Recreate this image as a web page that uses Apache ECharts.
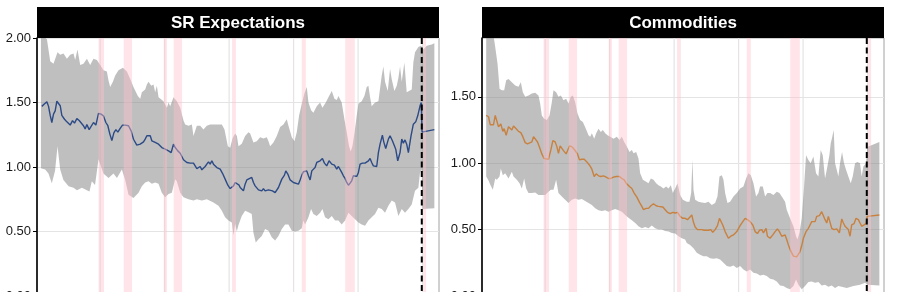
<!DOCTYPE html>
<html><head><meta charset="utf-8">
<script src="https://cdn.jsdelivr.net/npm/echarts@6/dist/echarts.min.js"></script>
<style>html,body{margin:0;padding:0;background:#fff}#c{width:897px;height:292px}</style>
</head><body><div id="c"></div>
<script>
const panelTitles = ['SR Expectations', 'Commodities'];
const decadeLines = [1970, 1980, 1990, 2000, 2010, 2020];
const forecastStart = 2019.88;
const recessions = [[1969.75,1970.6],[1973.65,1974.95],[1979.85,1980.35],[1981.4,1982.7],[1990.45,1991.05],[2001.27,2001.9],[2008.0,2009.5],[2020.1,2020.55]];

const srMean = [[1960.95,1.47],[1961.37,1.49],[1961.73,1.505],[1961.99,1.47],[1962.25,1.40],[1962.5,1.345],[1962.76,1.41],[1963.02,1.435],[1963.28,1.51],[1963.54,1.525],[1963.8,1.475],[1964.05,1.40],[1964.47,1.37],[1964.83,1.35],[1965.35,1.325],[1965.71,1.36],[1966.02,1.34],[1966.38,1.375],[1966.74,1.36],[1967.05,1.37],[1967.41,1.32],[1967.67,1.295],[1967.93,1.33],[1968.29,1.29],[1968.6,1.305],[1968.96,1.345],[1969.33,1.325],[1969.74,1.415],[1970.15,1.41],[1970.51,1.395],[1970.88,1.345],[1971.19,1.32],[1971.5,1.255],[1971.81,1.205],[1972.12,1.265],[1972.43,1.29],[1972.74,1.27],[1973.1,1.30],[1973.46,1.325],[1973.87,1.325],[1974.39,1.32],[1974.8,1.28],[1975.17,1.215],[1975.68,1.17],[1976.21,1.177],[1976.46,1.164],[1976.72,1.195],[1976.98,1.216],[1977.24,1.242],[1977.5,1.255],[1977.76,1.242],[1978.01,1.203],[1978.27,1.216],[1978.53,1.19],[1978.79,1.203],[1979.05,1.177],[1979.31,1.164],[1979.56,1.151],[1980.08,1.138],[1980.6,1.125],[1981.01,1.112],[1981.37,1.177],[1981.63,1.151],[1982.04,1.125],[1982.41,1.107],[1982.92,1.056],[1983.44,1.035],[1983.96,1.03],[1984.47,1.03],[1984.73,1.04],[1984.99,0.988],[1985.25,0.996],[1985.51,1.004],[1985.77,0.978],[1986.02,0.963],[1986.28,1.004],[1986.54,1.022],[1986.8,1.04],[1987.06,1.022],[1987.32,1.048],[1987.57,1.022],[1987.83,1.022],[1988.09,0.996],[1988.61,0.983],[1988.97,0.951],[1989.38,0.906],[1989.8,0.859],[1990.16,0.833],[1990.68,0.854],[1990.93,0.88],[1991.19,0.886],[1991.55,0.859],[1991.71,0.841],[1991.96,0.854],[1992.22,0.815],[1992.48,0.867],[1992.74,0.9],[1993.0,0.91],[1993.51,0.919],[1993.77,0.88],[1994.03,0.854],[1994.29,0.841],[1994.55,0.823],[1994.81,0.828],[1995.06,0.815],[1995.32,0.833],[1995.58,0.815],[1995.84,0.828],[1996.1,0.823],[1996.36,0.828],[1996.72,0.815],[1997.13,0.802],[1997.39,0.807],[1997.65,0.841],[1998.17,0.906],[1998.58,0.937],[1998.79,0.97],[1999.1,0.945],[1999.46,0.9],[1999.72,0.906],[1999.97,0.88],[2000.23,0.886],[2000.75,0.867],[2001.01,0.9],[2001.27,0.937],[2001.52,0.963],[2001.78,0.958],[2002.04,0.97],[2002.3,0.932],[2002.56,0.9],[2002.82,0.97],[2003.07,0.97],[2003.33,0.996],[2003.59,1.035],[2004.11,1.048],[2004.47,1.066],[2004.78,1.03],[2005.14,1.009],[2005.5,1.048],[2005.92,1.022],[2006.33,1.014],[2006.69,0.983],[2006.95,1.004],[2007.21,0.996],[2007.46,0.958],[2007.72,0.932],[2007.98,0.911],[2008.24,0.88],[2008.5,0.859],[2008.76,0.875],[2009.01,0.893],[2009.27,0.932],[2009.53,0.937],[2009.79,0.927],[2010.05,0.958],[2010.31,1.022],[2010.67,1.03],[2011.08,1.03],[2011.34,1.04],[2011.6,1.048],[2011.86,1.066],[2012.11,1.035],[2012.37,1.009],[2012.89,1.004],[2013.15,1.112],[2013.41,1.177],[2013.77,1.247],[2013.98,1.195],[2014.29,1.143],[2014.7,1.216],[2014.96,1.242],[2015.32,1.203],[2015.63,1.164],[2015.84,1.138],[2016.15,1.048],[2016.51,1.112],[2016.77,1.216],[2017.02,1.185],[2017.28,1.21],[2017.54,1.177],[2017.8,1.112],[2018.21,1.242],[2018.57,1.332],[2018.94,1.35],[2019.25,1.397],[2019.61,1.474],[2019.8,1.5],[2019.92,1.27],[2021.83,1.29]];

const srUpper = [[1960.81,2.03],[1961.74,1.99],[1962.25,1.82],[1962.76,1.80],[1963.38,1.89],[1963.8,1.87],[1964.31,1.88],[1964.84,1.84],[1965.35,1.87],[1965.86,1.88],[1966.12,1.83],[1966.48,1.91],[1966.9,1.79],[1967.41,1.80],[1967.94,1.84],[1968.45,1.79],[1968.96,1.84],[1969.49,1.83],[1970.0,1.79],[1970.51,1.75],[1971.04,1.74],[1971.29,1.67],[1971.55,1.62],[1971.97,1.66],[1972.33,1.71],[1972.84,1.75],[1973.52,1.77],[1974.14,1.74],[1974.76,1.67],[1975.16,1.62],[1975.84,1.55],[1976.21,1.53],[1976.46,1.58],[1976.98,1.60],[1977.24,1.64],[1977.5,1.66],[1977.91,1.63],[1978.27,1.64],[1978.53,1.58],[1978.79,1.63],[1979.05,1.54],[1979.82,1.51],[1980.34,1.46],[1980.6,1.50],[1980.86,1.47],[1981.37,1.54],[1981.89,1.51],[1982.41,1.46],[1982.92,1.36],[1983.18,1.33],[1983.7,1.32],[1984.22,1.33],[1984.47,1.24],[1984.99,1.32],[1985.51,1.32],[1986.02,1.29],[1986.54,1.32],[1987.06,1.33],[1988.09,1.33],[1988.87,1.33],[1989.28,1.29],[1989.8,1.16],[1990.16,1.15],[1990.52,1.22],[1990.93,1.26],[1991.2,1.24],[1991.45,1.16],[1991.96,1.18],[1992.48,1.24],[1993.0,1.27],[1993.26,1.26],[1993.77,1.19],[1994.29,1.20],[1994.81,1.23],[1995.32,1.22],[1995.84,1.23],[1996.1,1.20],[1996.36,1.16],[1996.87,1.19],[1997.39,1.24],[1997.91,1.31],[1998.42,1.33],[1998.94,1.37],[1999.2,1.32],[1999.72,1.23],[2000.13,1.20],[2000.49,1.27],[2000.85,1.40],[2001.27,1.49],[2001.68,1.57],[2002.04,1.62],[2002.3,1.50],[2002.71,1.44],[2003.07,1.42],[2003.59,1.47],[2004.11,1.50],[2004.47,1.46],[2004.99,1.50],[2005.4,1.54],[2005.92,1.59],[2006.33,1.53],[2006.7,1.52],[2006.95,1.55],[2007.46,1.50],[2007.88,1.37],[2008.24,1.27],[2008.6,1.16],[2008.86,1.12],[2009.12,1.16],[2009.43,1.26],[2009.79,1.40],[2010.05,1.49],[2010.56,1.51],[2010.98,1.55],[2011.34,1.62],[2011.6,1.63],[2011.86,1.54],[2012.11,1.47],[2012.63,1.50],[2013.15,1.51],[2013.67,1.71],[2013.92,1.78],[2014.18,1.66],[2014.6,1.59],[2014.96,1.76],[2015.22,1.68],[2015.63,1.59],[2016.0,1.63],[2016.25,1.69],[2016.51,1.78],[2016.77,1.66],[2017.18,1.81],[2017.54,1.58],[2017.9,1.59],[2018.32,1.60],[2018.57,1.81],[2018.83,1.89],[2019.35,1.93],[2019.76,1.94],[2020.13,1.91],[2020.65,1.94],[2021.42,1.95],[2021.83,1.96]];

const srLower = [[1960.81,0.99],[1961.47,0.98],[1961.98,0.95],[1962.5,0.875],[1963.0,0.97],[1963.38,1.16],[1963.8,0.98],[1964.3,0.90],[1965.1,0.85],[1965.86,0.84],[1966.4,0.82],[1967.16,0.84],[1967.94,0.82],[1968.34,0.81],[1968.7,0.89],[1969.2,0.86],[1969.74,1.06],[1970.5,0.95],[1971.3,0.915],[1972.06,0.95],[1972.6,0.915],[1973.36,0.98],[1973.88,0.90],[1974.4,0.785],[1975.16,0.76],[1975.95,0.80],[1976.46,0.85],[1976.98,0.88],[1977.5,0.89],[1978.01,0.87],[1978.53,0.88],[1979.05,0.87],[1979.56,0.80],[1980.08,0.765],[1980.6,0.79],[1981.11,0.80],[1981.63,0.905],[1981.89,0.89],[1982.41,0.80],[1982.92,0.765],[1983.7,0.75],[1984.47,0.74],[1984.99,0.75],[1985.77,0.74],[1986.54,0.75],[1987.57,0.725],[1988.35,0.70],[1988.87,0.66],[1989.38,0.61],[1989.9,0.585],[1990.42,0.57],[1990.68,0.47],[1990.93,0.56],[1991.19,0.50],[1991.45,0.55],[1991.96,0.62],[1992.48,0.66],[1993.0,0.65],[1993.51,0.635],[1993.77,0.49],[1994.13,0.415],[1994.55,0.44],[1995.06,0.465],[1995.58,0.52],[1996.1,0.505],[1996.61,0.455],[1997.13,0.43],[1997.65,0.465],[1998.17,0.52],[1998.68,0.555],[1999.2,0.555],[1999.72,0.505],[2000.23,0.50],[2000.75,0.505],[2001.27,0.525],[2001.52,0.585],[2001.78,0.555],[2002.3,0.61],[2002.71,0.675],[2003.07,0.635],[2003.59,0.62],[2004.11,0.645],[2004.47,0.675],[2004.88,0.61],[2005.4,0.595],[2005.92,0.62],[2006.43,0.585],[2006.95,0.585],[2007.46,0.555],[2007.98,0.585],[2008.5,0.645],[2009.01,0.62],[2009.53,0.595],[2010.05,0.57],[2010.56,0.555],[2011.08,0.545],[2011.6,0.585],[2012.11,0.61],[2012.63,0.635],[2013.15,0.685],[2013.67,0.675],[2014.18,0.645],[2014.7,0.70],[2015.22,0.74],[2015.73,0.725],[2016.25,0.62],[2016.77,0.675],[2017.28,0.645],[2017.8,0.675],[2018.32,0.71],[2018.83,0.815],[2019.35,0.84],[2019.61,0.96],[2019.85,0.98],[2020.0,0.675],[2021.83,0.68]];

const comMean = [[1960.85,1.36],[1961.21,1.35],[1961.47,1.29],[1961.73,1.30],[1961.99,1.29],[1962.25,1.36],[1962.5,1.35],[1962.76,1.275],[1963.12,1.295],[1963.43,1.24],[1963.64,1.26],[1963.95,1.21],[1964.31,1.275],[1964.57,1.29],[1964.83,1.25],[1965.09,1.28],[1965.5,1.26],[1965.86,1.24],[1966.22,1.23],[1966.53,1.20],[1966.9,1.155],[1967.26,1.145],[1967.57,1.135],[1967.93,1.16],[1968.19,1.20],[1968.45,1.195],[1968.81,1.16],[1969.12,1.12],[1969.48,1.07],[1969.84,1.035],[1970.15,1.025],[1970.51,1.03],[1970.88,1.10],[1971.19,1.17],[1971.55,1.16],[1971.81,1.125],[1972.06,1.075],[1972.32,1.13],[1972.58,1.125],[1972.84,1.095],[1973.25,1.07],[1973.46,1.075],[1973.77,1.13],[1974.13,1.125],[1974.49,1.105],[1974.8,1.10],[1975.01,1.07],[1975.32,1.025],[1975.68,1.03],[1976.05,1.03],[1976.46,1.01],[1976.88,0.985],[1977.24,0.955],[1977.6,0.90],[1977.91,0.92],[1978.27,0.905],[1978.63,0.90],[1979.05,0.905],[1979.46,0.895],[1979.82,0.885],[1980.18,0.885],[1980.6,0.895],[1981.01,0.90],[1981.22,0.885],[1981.53,0.90],[1981.89,0.885],[1982.25,0.875],[1982.56,0.85],[1983.08,0.825],[1983.44,0.81],[1983.8,0.775],[1984.22,0.745],[1984.63,0.705],[1984.99,0.675],[1985.25,0.65],[1985.66,0.66],[1986.02,0.66],[1986.39,0.68],[1986.8,0.695],[1987.21,0.68],[1987.57,0.675],[1987.83,0.66],[1988.25,0.67],[1988.61,0.65],[1988.97,0.63],[1989.38,0.62],[1989.8,0.63],[1990.16,0.625],[1990.52,0.63],[1990.93,0.60],[1991.35,0.585],[1991.71,0.585],[1992.07,0.575],[1992.38,0.585],[1992.74,0.61],[1993.0,0.555],[1993.26,0.52],[1993.62,0.50],[1993.93,0.485],[1994.29,0.50],[1994.65,0.495],[1994.96,0.505],[1995.32,0.495],[1995.68,0.50],[1995.99,0.48],[1996.36,0.50],[1996.72,0.53],[1997.03,0.585],[1997.23,0.60],[1997.54,0.535],[1997.91,0.485],[1998.42,0.435],[1998.79,0.45],[1999.2,0.46],[1999.72,0.485],[2000.23,0.53],[2000.65,0.56],[2001.01,0.585],[2001.37,0.575],[2001.78,0.56],[2002.2,0.535],[2002.56,0.485],[2002.92,0.47],[2003.23,0.495],[2003.59,0.50],[2003.85,0.475],[2004.26,0.51],[2004.47,0.45],[2004.88,0.435],[2005.3,0.46],[2005.66,0.485],[2006.02,0.505],[2006.33,0.485],[2006.69,0.45],[2006.95,0.435],[2007.21,0.46],[2007.46,0.425],[2007.72,0.385],[2007.98,0.35],[2008.24,0.325],[2008.5,0.30],[2008.76,0.305],[2009.01,0.295],[2009.27,0.31],[2009.53,0.335],[2009.79,0.38],[2010.05,0.435],[2010.46,0.485],[2010.82,0.51],[2011.08,0.535],[2011.34,0.56],[2011.6,0.575],[2011.86,0.56],[2012.11,0.60],[2012.53,0.605],[2012.89,0.635],[2013.15,0.625],[2013.41,0.575],[2013.67,0.55],[2013.92,0.60],[2014.18,0.585],[2014.44,0.51],[2014.8,0.50],[2015.22,0.505],[2015.63,0.475],[2016.0,0.58],[2016.25,0.55],[2016.51,0.525],[2016.77,0.51],[2017.02,0.50],[2017.28,0.45],[2017.54,0.535],[2017.9,0.545],[2018.21,0.585],[2018.57,0.575],[2018.83,0.57],[2019.09,0.525],[2019.35,0.535],[2019.76,0.545],[2019.95,0.60],[2021.83,0.61]];

const comUpper = [[1960.85,2.0],[1961.99,1.96],[1962.25,1.875],[1962.61,1.75],[1962.92,1.56],[1963.28,1.55],[1963.64,1.55],[1963.95,1.625],[1964.31,1.635],[1964.83,1.61],[1965.35,1.585],[1965.86,1.575],[1966.22,1.61],[1966.53,1.535],[1966.9,1.50],[1967.41,1.51],[1967.93,1.525],[1968.45,1.53],[1968.96,1.51],[1969.22,1.45],[1969.48,1.36],[1969.84,1.335],[1970.26,1.325],[1970.67,1.36],[1971.03,1.46],[1971.29,1.55],[1971.7,1.535],[1972.06,1.50],[1972.43,1.51],[1972.84,1.475],[1973.25,1.485],[1973.62,1.45],[1973.98,1.50],[1974.29,1.51],[1974.65,1.46],[1975.01,1.375],[1975.42,1.325],[1975.84,1.31],[1976.21,1.27],[1976.72,1.21],[1976.98,1.20],[1977.24,1.225],[1977.6,1.185],[1977.91,1.225],[1978.27,1.26],[1978.63,1.235],[1978.94,1.25],[1979.31,1.225],[1979.67,1.21],[1980.08,1.20],[1980.6,1.185],[1981.11,1.20],[1981.53,1.175],[1981.89,1.20],[1982.25,1.16],[1982.66,1.125],[1983.08,1.085],[1983.44,1.10],[1983.7,1.075],[1984.11,1.085],[1984.47,1.035],[1984.73,0.925],[1985.15,0.875],[1985.66,0.86],[1986.02,0.85],[1986.39,0.885],[1986.8,0.875],[1987.21,0.85],[1987.57,0.835],[1987.94,0.825],[1988.35,0.81],[1988.76,0.825],[1989.13,0.81],[1989.49,0.835],[1989.8,0.775],[1990.16,0.81],[1990.52,0.85],[1990.93,0.76],[1991.35,0.725],[1991.96,0.71],[1992.38,0.71],[1992.64,0.775],[1992.84,1.025],[1993.0,0.80],[1993.26,0.725],[1993.77,0.71],[1994.29,0.705],[1994.81,0.70],[1995.32,0.71],[1995.84,0.685],[1996.36,0.70],[1996.72,0.75],[1997.03,0.90],[1997.39,0.91],[1997.65,0.875],[1997.91,0.775],[1998.27,0.70],[1998.68,0.71],[1999.2,0.75],[1999.72,0.775],[2000.23,0.81],[2000.75,0.825],[2001.16,0.885],[2001.52,0.925],[2001.89,0.91],[2002.3,0.85],[2002.71,0.75],[2003.07,0.775],[2003.33,0.825],[2003.75,0.825],[2004.11,0.75],[2004.47,0.775],[2004.88,0.775],[2005.4,0.76],[2005.92,0.785],[2006.33,0.775],[2006.69,0.75],[2007.21,0.71],[2007.46,0.65],[2007.98,0.585],[2008.5,0.525],[2008.91,0.45],[2009.12,0.425],[2009.43,0.475],[2009.79,0.585],[2010.15,0.825],[2010.46,1.06],[2010.82,1.025],[2011.18,1.0],[2011.6,1.05],[2012.01,0.925],[2012.37,0.90],[2012.73,1.10],[2013.05,1.06],[2013.41,0.885],[2013.77,0.975],[2014.08,1.06],[2014.29,1.15],[2014.49,1.19],[2014.75,1.25],[2014.96,1.0],[2015.22,0.95],[2015.47,0.90],[2015.73,1.0],[2016.04,1.085],[2016.35,1.0],[2016.66,0.95],[2017.02,0.90],[2017.39,0.85],[2017.7,0.90],[2018.06,1.0],[2018.42,1.01],[2018.83,1.0],[2019.09,0.90],[2019.35,0.975],[2019.76,1.0],[2019.95,1.12],[2020.13,1.125],[2021.83,1.16]];

const comLower = [[1960.85,0.90],[1961.21,0.87],[1961.47,0.84],[1961.88,0.80],[1962.25,0.885],[1962.5,0.875],[1962.92,0.90],[1963.12,0.96],[1963.43,0.91],[1963.8,0.925],[1964.31,0.885],[1964.83,0.935],[1965.09,0.90],[1965.6,0.875],[1966.02,0.85],[1966.38,0.81],[1966.74,0.885],[1967.05,0.81],[1967.41,0.775],[1967.93,0.775],[1968.45,0.78],[1968.96,0.76],[1969.48,0.76],[1969.99,0.76],[1970.51,0.785],[1970.88,0.80],[1971.29,0.80],[1971.7,0.875],[1972.06,0.775],[1972.58,0.75],[1973.1,0.725],[1973.62,0.70],[1974.13,0.725],[1974.65,0.735],[1975.17,0.725],[1975.68,0.73],[1976.2,0.715],[1976.72,0.70],[1977.24,0.685],[1977.76,0.66],[1978.27,0.645],[1978.79,0.64],[1979.31,0.645],[1979.82,0.635],[1980.34,0.645],[1980.86,0.655],[1981.37,0.645],[1981.89,0.635],[1982.41,0.61],[1982.92,0.59],[1983.44,0.57],[1983.96,0.55],[1984.47,0.525],[1984.99,0.51],[1985.51,0.52],[1986.02,0.51],[1986.54,0.53],[1987.06,0.51],[1987.57,0.50],[1988.09,0.50],[1988.61,0.49],[1989.13,0.485],[1989.64,0.475],[1990.16,0.47],[1990.68,0.45],[1991.19,0.435],[1991.71,0.425],[1991.96,0.40],[1992.48,0.385],[1993.0,0.36],[1993.51,0.325],[1994.03,0.31],[1994.55,0.30],[1995.06,0.30],[1995.58,0.285],[1996.1,0.28],[1996.61,0.285],[1997.13,0.275],[1997.65,0.25],[1998.17,0.225],[1998.68,0.22],[1999.2,0.23],[1999.72,0.21],[2000.23,0.225],[2000.75,0.20],[2001.27,0.185],[2001.78,0.20],[2002.3,0.175],[2002.82,0.17],[2003.33,0.155],[2003.85,0.16],[2004.37,0.15],[2004.88,0.13],[2005.4,0.125],[2005.92,0.11],[2006.43,0.08],[2006.95,0.075],[2007.46,0.06],[2007.98,0.05],[2008.5,0.075],[2008.91,0.125],[2009.27,0.085],[2009.79,0.05],[2010.31,0.075],[2010.82,0.105],[2011.34,0.11],[2011.86,0.10],[2012.37,0.105],[2012.89,0.08],[2013.41,0.085],[2013.92,0.07],[2014.44,0.08],[2014.96,0.06],[2015.47,0.075],[2015.99,0.07],[2016.77,0.06],[2017.8,0.075],[2018.83,0.085],[2019.61,0.10],[2019.97,0.085],[2021.83,0.08]];

const chart = echarts.init(document.getElementById('c'), null, {renderer: 'canvas'});
const FONT = '"Liberation Sans", Arial, Helvetica, sans-serif';
const panels = [
  {mean: srMean, upper: srUpper, lower: srLower, color: '#2c4a86', ymax: 2.0, left: 37},
  {mean: comMean, upper: comUpper, lower: comLower, color: '#c8813f', ymax: 1.943, left: 482}
];
const PW = 402, PT = 38, PH = 258;

const grids = [], xAxes = [], yAxes = [], series = [], graphics = [];
panels.forEach((p, i) => {
  grids.push({left: p.left, top: PT, width: PW, height: PH, show: true, borderColor: '#8c8c8c', borderWidth: 0.8, backgroundColor: 'transparent', containLabel: false, outerBoundsMode: 'none'});
  xAxes.push({type: 'value', gridIndex: i, min: 1960.2, max: 2022.55, axisLine: {show: false}, axisTick: {show: false}, axisLabel: {show: false}, splitLine: {show: false}});
  yAxes.push({type: 'value', gridIndex: i, min: 0, max: p.ymax, interval: 0.5,
    axisLine: {show: true, lineStyle: {color: '#000', width: 1.6}},
    axisTick: {show: true, length: 4, lineStyle: {color: '#000', width: 1}, customValues: [0, 0.5, 1, 1.5, 2].filter(v => v <= p.ymax + 1e-9)},
    axisLabel: {show: true, margin: 6, fontSize: 13, fontFamily: FONT, color: '#1a1a1a',
      customValues: [0, 0.5, 1, 1.5, 2].filter(v => v <= p.ymax + 1e-9),
      formatter: v => (Math.abs(v * 2 - Math.round(v * 2)) < 1e-6 ? v.toFixed(2) : '')},
    splitLine: {show: true, lineStyle: {color: '#e4e4e4', width: 1.2}}
  });
  // vertical decade grid lines
  series.push({type: 'custom', xAxisIndex: i, yAxisIndex: i, z: 1, silent: true, clip: true,
    data: decadeLines.map(y => [y, 0]), encode: {x: 0, y: 1},
    renderItem: (params, api) => {
      const cs = params.coordSys;
      const x = api.coord([api.value(0), 0])[0];
      return {type: 'line', shape: {x1: x, y1: cs.y, x2: x, y2: cs.y + cs.height}, style: {stroke: '#e4e4e4', lineWidth: 1.2}};
    }
  });
  // uncertainty band
  series.push({type: 'custom', xAxisIndex: i, yAxisIndex: i, z: 2, silent: true, clip: true,
    data: [[1990, 1]], encode: {x: 0, y: 1},
    renderItem: (params, api) => {
      const pts = p.upper.map(d => api.coord(d)).concat(p.lower.slice().reverse().map(d => api.coord(d)));
      return {type: 'polygon', shape: {points: pts}, style: {fill: 'rgba(128,128,128,0.5)'}};
    }
  });
  // mean line
  series.push({type: 'line', xAxisIndex: i, yAxisIndex: i, z: 3, silent: true, data: p.mean, showSymbol: false, symbol: 'none', clip: true,
    lineStyle: {color: p.color, width: 1.4}});
  // recessions
  series.push({type: 'custom', xAxisIndex: i, yAxisIndex: i, z: 4, silent: true, clip: true,
    data: recessions, encode: {x: [0, 1]},
    renderItem: (params, api) => {
      const cs = params.coordSys;
      const a = api.coord([api.value(0), 0])[0];
      const b = api.coord([api.value(1), 0])[0];
      return {type: 'rect', shape: {x: a, y: cs.y, width: b - a, height: cs.height}, style: {fill: 'rgba(255,192,203,0.42)'}};
    }
  });
  // forecast start
  series.push({type: 'custom', xAxisIndex: i, yAxisIndex: i, z: 5, silent: true, clip: true,
    data: [[forecastStart, 0]], encode: {x: 0, y: 1},
    renderItem: (params, api) => {
      const cs = params.coordSys;
      const x = api.coord([api.value(0), 0])[0];
      return {type: 'line', shape: {x1: x, y1: cs.y, x2: x, y2: cs.y + cs.height}, style: {stroke: '#000', lineWidth: 2, lineDash: [6, 3.5]}};
    }
  });
  graphics.push({type: 'rect', shape: {x: p.left, y: 7, width: PW, height: 31}, style: {fill: '#000'}, z: 10});
  graphics.push({type: 'text', x: p.left + PW / 2, y: 23, style: {text: panelTitles[i], fill: '#fff', font: 'bold 17px ' + FONT, textAlign: 'center', textVerticalAlign: 'middle'}, z: 11});
});

chart.setOption({
  animation: false,
  backgroundColor: '#fff',
  grid: grids, xAxis: xAxes, yAxis: yAxes, series: series, graphic: graphics
});
</script>
</body></html>
